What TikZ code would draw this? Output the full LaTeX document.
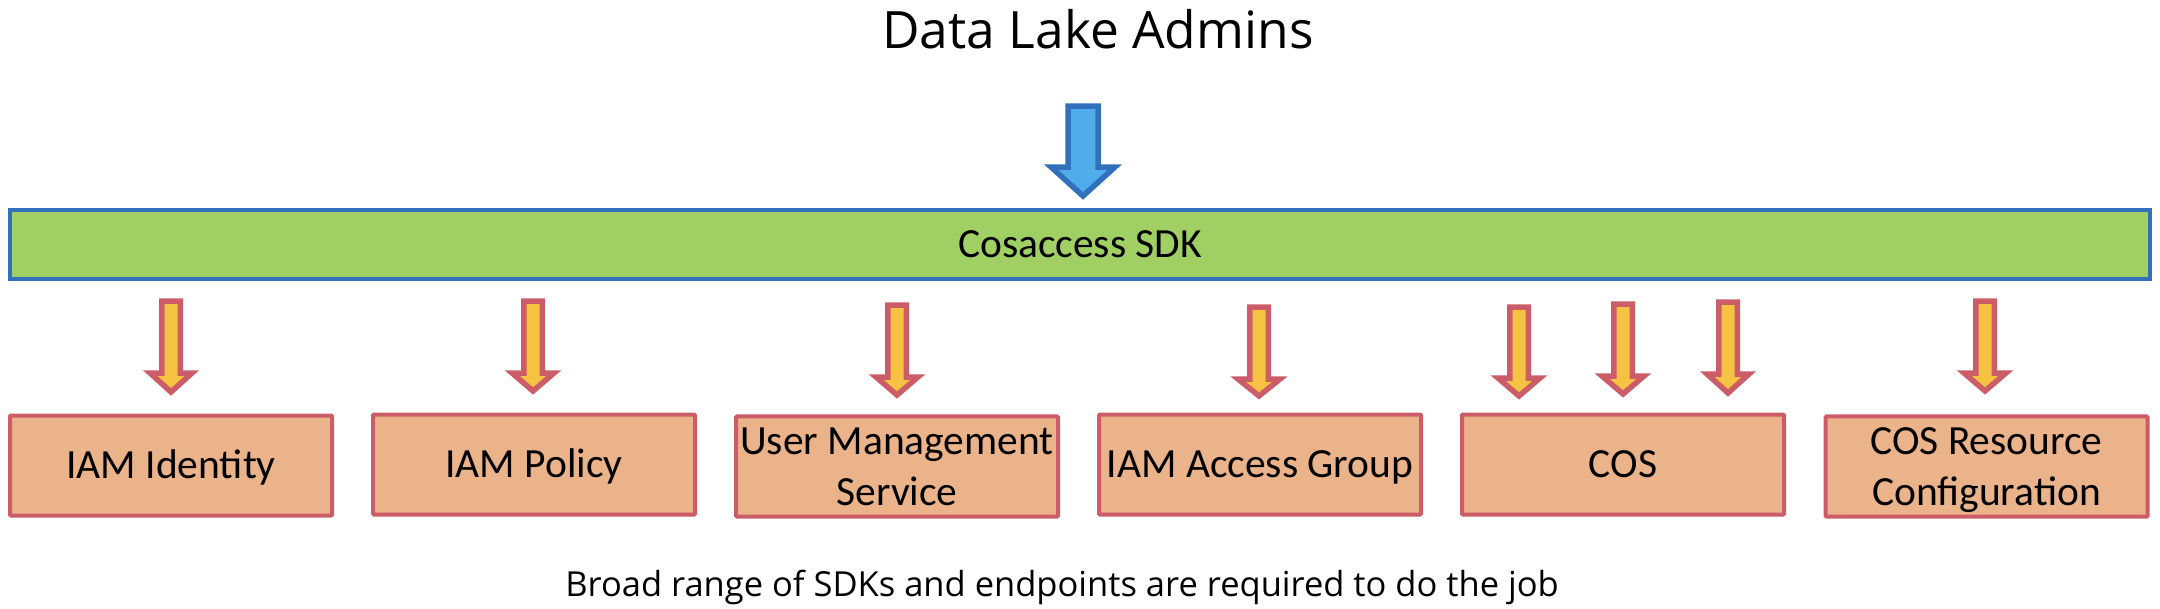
\documentclass[tikz,border=0pt]{standalone}
\usepackage{fontspec}
\setmainfont{Carlito}
\newfontfamily\plexlike{Open Sans}
\definecolor{bluebrd}{RGB}{48,112,189}
\definecolor{bluefill}{RGB}{79,173,234}
\definecolor{barfill}{RGB}{160,208,99}
\definecolor{redbrd}{RGB}{204,93,104}
\definecolor{yelfill}{RGB}{245,194,66}
\definecolor{boxfill}{RGB}{234,179,137}
\newcommand\mystrut{\rule[-11.3pt]{0pt}{49.3pt}}
\newcommand\bkarrow[7]{%
  \draw[#7] (#1-#5,#2) -- (#1+#5,#2) -- (#1+#5,#3) -- (#1+#6,#3) -- (#1,#4)
    -- (#1-#6,#3) -- (#1-#5,#3) -- cycle;}
\begin{document}
\begin{tikzpicture}[x=1pt,y=-1pt,
  boxfont/.style={font=\fontsize{41.5}{51}\selectfont},
  sdkbar/.style={draw=bluebrd, fill=barfill, line width=4pt, inner sep=0pt,
    minimum width=2140pt, minimum height=69pt, boxfont},
  svcbox/.style={draw=redbrd, fill=boxfill, line width=4pt, inner sep=0pt,
    minimum width=322pt, minimum height=100pt, rounded corners=1pt,
    align=center, boxfont},
  bluearr/.style={draw=bluebrd, fill=bluefill, line width=5.5pt, line join=miter},
  yelarr/.style={draw=redbrd, fill=yelfill, line width=5.5pt, line join=miter}]
\useasboundingbox (0,0) rectangle (2160,608);
\node[font=\plexlike\fontsize{51.5}{60}\selectfont, anchor=base] (title) at (1098,48) {Data Lake Admins};
\bkarrow{1083}{106}{167}{196}{15}{32}{bluearr}
\node[sdkbar] (sdk) at (1080,244.5) {\mystrut Cosaccess SDK};
\node[svcbox] (b1) at (171,465.5) {\mystrut IAM Identity};
\node[svcbox] (b2) at (534,464.5) {\mystrut IAM Policy};
\node[svcbox] (b3) at (897,466.5) {\mystrut User Management\\\mystrut Service};
\node[svcbox] (b4) at (1260,464.5) {\mystrut IAM Access Group};
\node[svcbox] (b5) at (1623,464.5) {\mystrut COS};
\node[svcbox] (b6) at (1986.5,466.5) {\mystrut COS Resource\\\mystrut Configuration};
\bkarrow{171}{301}{373}{392}{9.25}{21}{yelarr}
\bkarrow{533}{301}{373}{391}{9.25}{21}{yelarr}
\bkarrow{897}{305}{377}{395}{9.25}{21}{yelarr}
\bkarrow{1259}{307}{379}{396}{9.25}{21}{yelarr}
\bkarrow{1519}{307}{378}{396}{9.25}{21}{yelarr}
\bkarrow{1623}{304}{376}{394}{9.25}{21}{yelarr}
\bkarrow{1728}{302}{374}{393}{9.25}{21}{yelarr}
\bkarrow{1985}{301}{373}{391}{9.25}{21}{yelarr}
\node[font=\plexlike\fontsize{34.5}{40}\selectfont, anchor=base] (note) at (1062,596) {Broad range of SDKs and endpoints are required to do the job};
\end{tikzpicture}
\end{document}
